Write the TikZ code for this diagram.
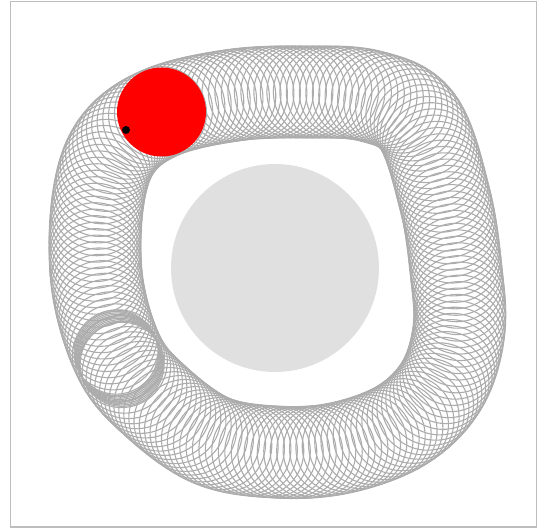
\documentclass[tikz,border=0pt]{standalone}
\usetikzlibrary{decorations.markings}
\definecolor{ringgray}{RGB}{172,172,172}
\definecolor{coregray}{RGB}{224,224,224}

\begin{document}
\begin{tikzpicture}[
  x=1pt, y=-1pt,
  frame/.style={draw=ringgray!80, line width=1.6pt},
  trail/.style={draw=ringgray, line width=1.1pt},
  core/.style={circle, fill=coregray, minimum size=208pt, inner sep=0pt},
  ball/.style={circle, fill=red, minimum size=89pt, inner sep=0pt},
  tracer/.style={circle, fill=black, minimum size=8pt, inner sep=0pt}
]
\useasboundingbox (0,0) rectangle (540,529);
\draw[frame] (10.5,1.5) rectangle (536.5,527);
% trail of the ball round the track
\path[decorate, decoration={markings,
    mark=between positions 0 and 1 step 6.5pt with {\draw[trail] (0,0) circle (46pt);}}]
  plot[smooth cycle, tension=0.6] coordinates {
    (162,112) (235,95) (305,92) (370,96) (418,122) (445,200) (456,270)
    (459,330) (442,385) (402,425) (340,448) (275,452) (210,440) (152,398)
    (118,355) (97,282) (98,200) (117,145)};
% slow part of the run, bunched circles
\foreach \t in {-7,-5.5,...,7}
  \draw[trail] (119-0.45*\t,358-0.9*\t) circle (42pt);
\node[core] (disk) at (275,268) {};
\node[ball] (ball) at (161.5,112) {};
\node[tracer] (dot) at (126,130) {};
\end{tikzpicture}
\end{document}
